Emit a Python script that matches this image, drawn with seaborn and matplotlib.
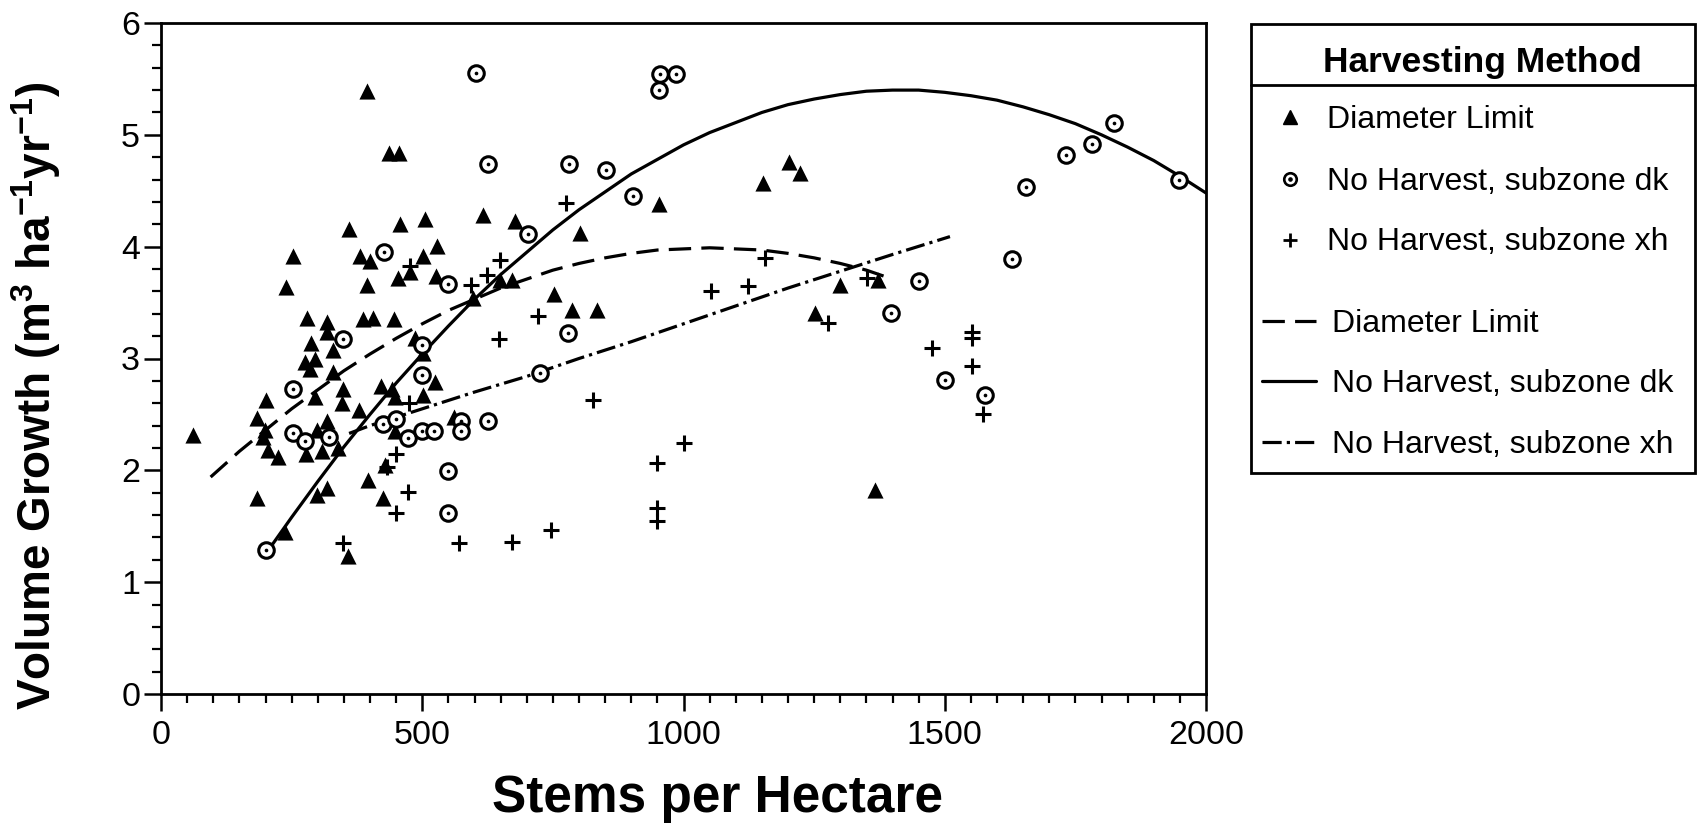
import numpy as np
import pandas as pd
import matplotlib
matplotlib.use("Agg")
import matplotlib.pyplot as plt
import seaborn as sns
from matplotlib.lines import Line2D
from matplotlib.patches import Rectangle
from matplotlib.ticker import MultipleLocator

# ---------------- data ----------------
dl_x = [395, 437, 456, 360, 457, 506, 252, 380, 400, 501, 528, 239, 395, 454, 477, 526,
        617, 677, 752, 786, 834, 649, 671, 598, 802, 279, 318, 317, 387, 405, 445, 288,
        486, 329, 276, 295, 285, 329, 502, 524, 502, 422, 442, 448, 348, 346, 295, 201,
        378, 183, 199, 196, 317, 298, 205, 224, 278, 309, 339, 62, 448, 560, 429, 397,
        317, 298, 424, 184, 237, 358, 954, 1201, 1223, 1153, 1299, 1373, 1252, 1366]
dl_y = [5.39, 4.84, 4.84, 4.16, 4.20, 4.25, 3.92, 3.92, 3.87, 3.92, 4.01, 3.64, 3.66, 3.72, 3.77, 3.74,
        4.28, 4.23, 3.58, 3.43, 3.43, 3.70, 3.70, 3.54, 4.12, 3.36, 3.33, 3.24, 3.35, 3.36, 3.35, 3.14,
        3.18, 3.08, 2.97, 3.00, 2.91, 2.88, 3.05, 2.79, 2.67, 2.75, 2.73, 2.66, 2.73, 2.60, 2.66, 2.63,
        2.54, 2.47, 2.36, 2.30, 2.44, 2.36, 2.18, 2.12, 2.15, 2.17, 2.20, 2.32, 2.35, 2.48, 2.05, 1.91,
        1.84, 1.78, 1.75, 1.75, 1.45, 1.23, 4.38, 4.76, 4.66, 4.57, 3.66, 3.70, 3.41, 1.82]

dk_x = [603, 955, 986, 954, 626, 780, 852, 903, 426, 703, 550, 778, 349, 499, 725, 499,
        253, 253, 276, 322, 424, 450, 473, 499, 522, 574, 574, 625, 550, 550, 201,
        1451, 1398, 1500, 1577, 1823, 1781, 1732, 1655, 1949, 1628]
dk_y = [5.55, 5.54, 5.54, 5.40, 4.74, 4.74, 4.69, 4.45, 3.95, 4.11, 3.67, 3.23, 3.17, 3.12, 2.87, 2.85,
        2.73, 2.33, 2.26, 2.30, 2.41, 2.46, 2.29, 2.35, 2.35, 2.44, 2.35, 2.44, 1.99, 1.62, 1.29,
        3.69, 3.41, 2.81, 2.67, 5.11, 4.92, 4.82, 4.53, 4.60, 3.89]

xh_x = [775, 648, 623, 593, 477, 722, 646, 826, 475, 450, 432, 473, 450, 348, 571, 671,
        746, 1156, 1052, 1124, 1351, 1277, 1552, 1552, 1475, 1552, 1573, 1001, 950, 950, 950]
xh_y = [4.39, 3.88, 3.75, 3.66, 3.83, 3.38, 3.17, 2.63, 2.60, 2.15, 2.03, 1.81, 1.62, 1.35, 1.35, 1.36,
        1.47, 3.90, 3.60, 3.65, 3.72, 3.32, 3.24, 3.18, 3.09, 2.93, 2.50, 2.24, 2.07, 1.66, 1.55]

# fitted curves
fit_dl_x = [95, 150, 200, 250, 300, 350, 400, 450, 500, 550, 600, 650, 700, 750, 800, 850,
            900, 950, 1000, 1050, 1100, 1150, 1200, 1250, 1300, 1350, 1400]
fit_dl_y = [1.94, 2.17, 2.36, 2.55, 2.72, 2.89, 3.04, 3.18, 3.31, 3.43, 3.53, 3.63, 3.71, 3.79,
            3.85, 3.90, 3.94, 3.97, 3.98, 3.99, 3.98, 3.97, 3.94, 3.90, 3.85, 3.79, 3.71]

fit_dk_x = [200, 250, 300, 350, 400, 450, 500, 550, 600, 650, 700, 750, 800, 850, 900, 950,
            1000, 1050, 1100, 1150, 1200, 1250, 1300, 1350, 1400, 1450, 1500, 1550, 1600,
            1650, 1700, 1750, 1800, 1850, 1900, 1950, 2000]
fit_dk_y = [1.25, 1.58, 1.90, 2.21, 2.50, 2.78, 3.04, 3.29, 3.53, 3.75, 3.95, 4.15, 4.33, 4.49,
            4.65, 4.78, 4.91, 5.02, 5.11, 5.20, 5.27, 5.32, 5.36, 5.39, 5.40, 5.40, 5.38, 5.35,
            5.31, 5.25, 5.18, 5.10, 5.00, 4.89, 4.77, 4.63, 4.48]

fit_xh_x = [360, 400, 500, 600, 700, 800, 900, 1000, 1100, 1200, 1300, 1400, 1510]
fit_xh_y = [2.33, 2.40, 2.55, 2.70, 2.84, 3.00, 3.15, 3.31, 3.47, 3.63, 3.78, 3.93, 4.09]

x_ticks = [0, 500, 1000, 1500, 2000]
y_ticks = [0, 1, 2, 3, 4, 5, 6]
legend_title = "Harvesting Method"
labels = ["Diameter Limit", "No Harvest, subzone dk", "No Harvest, subzone xh"]

# ---------------- style ----------------
sns.set_theme(style="ticks")
plt.rcParams["font.family"] = ["Liberation Sans", "DejaVu Sans"]
plt.rcParams["mathtext.fontset"] = "custom"
plt.rcParams["mathtext.rm"] = "Liberation Sans"
plt.rcParams["mathtext.bf"] = "Liberation Sans:bold"

W, H = 1704, 840
fig = plt.figure(figsize=(W / 100, H / 100), dpi=100)
fig.patch.set_facecolor("white")


def fx(px):
    return px / W


def fy(py):
    return 1 - py / H


L, R, T, B = 161, 1206, 23, 694
ax = fig.add_axes([fx(L), fy(B), (R - L) / W, (B - T) / H])
ax.set_facecolor("white")

LW = 2.3
DASH = (0, (7.0, 3.2))
DASHDOT = (0, (6.0, 1.6, 1.0, 1.6))

df_dl = pd.DataFrame({"x": fit_dl_x, "y": fit_dl_y})
df_dk = pd.DataFrame({"x": fit_dk_x, "y": fit_dk_y})
df_xh = pd.DataFrame({"x": fit_xh_x, "y": fit_xh_y})
sns.lineplot(data=df_dl, x="x", y="y", ax=ax, color="black", lw=LW, linestyle=DASH,
             estimator=None, sort=False, zorder=2)
sns.lineplot(data=df_dk, x="x", y="y", ax=ax, color="black", lw=LW, linestyle="-",
             estimator=None, sort=False, zorder=2)
sns.lineplot(data=df_xh, x="x", y="y", ax=ax, color="black", lw=LW, linestyle=DASHDOT,
             estimator=None, sort=False, zorder=2)
for ln in ax.get_lines():
    ln.set_solid_joinstyle("round")
    ln.set_dash_joinstyle("round")

sns.scatterplot(x=dl_x, y=dl_y, ax=ax, marker="^", s=135, color="black", linewidth=0, zorder=3)
sns.scatterplot(x=dk_x, y=dk_y, ax=ax, marker="o", s=125, color="white", edgecolor="black",
                linewidth=2.2, zorder=4)
sns.scatterplot(x=dk_x, y=dk_y, ax=ax, marker="o", s=7, color="black", linewidth=0, zorder=5)
sns.scatterplot(x=xh_x, y=xh_y, ax=ax, marker="+", s=145, color="black", linewidth=2.2, zorder=5)

ax.set_xlim(0, 2000)
ax.set_ylim(0, 6)
ax.set_xticks(x_ticks)
ax.set_yticks(y_ticks)
ax.xaxis.set_minor_locator(MultipleLocator(50))
ax.yaxis.set_minor_locator(MultipleLocator(0.2))
ax.tick_params(which="major", direction="out", length=12, width=1.8, colors="black",
               labelsize=24.5)
ax.tick_params(axis="x", which="major", pad=7)
ax.tick_params(axis="y", which="major", pad=3)
ax.tick_params(which="minor", direction="out", length=6.5, width=1.6, colors="black")
for s in ax.spines.values():
    s.set_visible(True)
    s.set_linewidth(2.0)
    s.set_color("black")

ax.set_xlabel("Stems per Hectare", fontsize=37, fontweight="bold", color="black")
ax.xaxis.set_label_coords((717 - L) / (R - L), (B - 774) / (B - T))
ax.set_ylabel(r"Volume Growth (m$^\mathbf{3}$ ha$^\mathbf{-1}$yr$^\mathbf{-1}$)",
              fontsize=33, fontweight="bold", color="black")
ax.yaxis.set_label_coords((63 - L) / (R - L), (B - 396) / (B - T))

# ---------------- legend box ----------------
bx0, by0, bx1, by1 = 1251, 24, 1695, 473
fig.add_artist(Rectangle((fx(bx0), fy(by1)), fx(bx1) - fx(bx0), fy(by0) - fy(by1),
                         fill=False, lw=2.0, edgecolor="black", transform=fig.transFigure))
fig.add_artist(Line2D([fx(bx0), fx(bx1)], [fy(85), fy(85)], lw=2.0, color="black",
                      transform=fig.transFigure))
fig.text(fx(1482), fy(72), legend_title, fontsize=25.5, fontweight="bold", ha="center",
         va="baseline", color="black")

mk_y = [117, 179, 240]
mk_base = [128.3, 190, 250.5]
ln_y = [321, 381, 442]
ln_base = [331.7, 391.7, 453]

fig.add_artist(Line2D([fx(1290)], [fy(mk_y[0])], marker="^", ms=10.5, color="black", ls="none",
                      transform=fig.transFigure))
fig.add_artist(Line2D([fx(1290)], [fy(mk_y[1])], marker="o", ms=9, mfc="white", mec="black",
                      mew=1.9, ls="none", transform=fig.transFigure))
fig.add_artist(Line2D([fx(1290)], [fy(mk_y[1])], marker="o", ms=2.3, color="black", ls="none",
                      transform=fig.transFigure))
fig.add_artist(Line2D([fx(1290)], [fy(mk_y[2])], marker="+", ms=10.5, mew=2.0, color="black",
                      ls="none", transform=fig.transFigure))
for lab, yb in zip(labels, mk_base):
    fig.text(fx(1327), fy(yb), lab, fontsize=23, ha="left", va="baseline", color="black")

for style, yl in zip([DASH, "-", DASHDOT], ln_y):
    fig.add_artist(Line2D([fx(1262), fx(1316)], [fy(yl), fy(yl)], lw=LW, ls=style,
                          color="black", transform=fig.transFigure))
for lab, yb in zip(labels, ln_base):
    fig.text(fx(1332), fy(yb), lab, fontsize=23, ha="left", va="baseline", color="black")

fig.savefig("out.png", dpi=100, facecolor="white")
